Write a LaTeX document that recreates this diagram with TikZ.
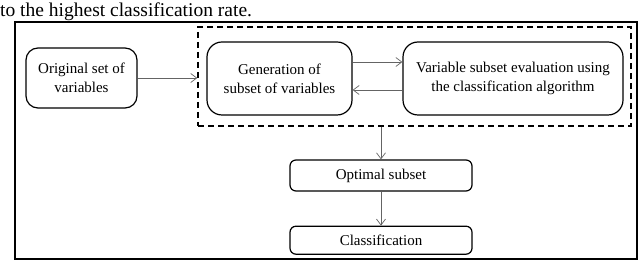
\documentclass[tikz,border=0pt]{standalone}
\usepackage{fontspec}
\setmainfont{Liberation Serif}
\usetikzlibrary{arrows.meta,positioning,calc}
\definecolor{lineGray}{RGB}{100,100,100}

\begin{document}
\begin{tikzpicture}[x=1pt, y=-1pt, >={Straight Barb[length=6pt,width=9pt]},
    block/.style={draw, line width=1.2pt, rectangle, rounded corners=12pt, align=center, font=\fontsize{15}{19}\selectfont, inner sep=0pt},
    flat/.style={draw, line width=1.2pt, rectangle, rounded corners=6pt, align=center, font=\fontsize{15}{19}\selectfont, minimum width=182pt, inner sep=0pt},
    link/.style={->, lineGray, line width=0.7pt}]
    \useasboundingbox (0,0) rectangle (640,261);
    \draw[line width=1.8pt] (15,22) rectangle (637,259);
    \node[anchor=base west, inner sep=0pt, font=\fontsize{19.5}{22}\selectfont] (cap) at (0,17) {to the highest classification rate.};

    \node[block, minimum width=111pt, minimum height=60pt] (orig) at (81.5,78) {Original set of\\ variables};
    \node[block, rounded corners=15pt, minimum width=145pt, minimum height=73pt] (gen) at (279.5,78.5) {Generation of\\ subset of variables};
    \node[block, rounded corners=15pt, minimum width=220pt, minimum height=73pt] (eval) at (513,78.5) {Variable subset evaluation using\\ the classification algorithm};
    \node[draw, line width=1.4pt, dash pattern=on 6pt off 4pt, minimum width=433pt, minimum height=99pt, inner sep=0pt] (loop) at (414.5,76.5) {};

    \node[flat, minimum height=31pt] (opt) at (381,175.5) {Optimal subset};
    \node[flat, minimum height=28pt, below=34pt of opt] (cls) {Classification};

    \draw[link] (orig.east) -- (orig.east -| loop.west);
    \draw[link] ([yshift=16.5pt]gen.east) -- ([yshift=16.5pt]gen.east -| eval.west);
    \draw[link] ([yshift=-11.5pt]gen.east -| eval.west) -- ([yshift=-11.5pt]gen.east);
    \draw[link] (opt.north |- loop.south) -- (opt.north);
    \draw[link] (opt) -- (cls);
\end{tikzpicture}
\end{document}
